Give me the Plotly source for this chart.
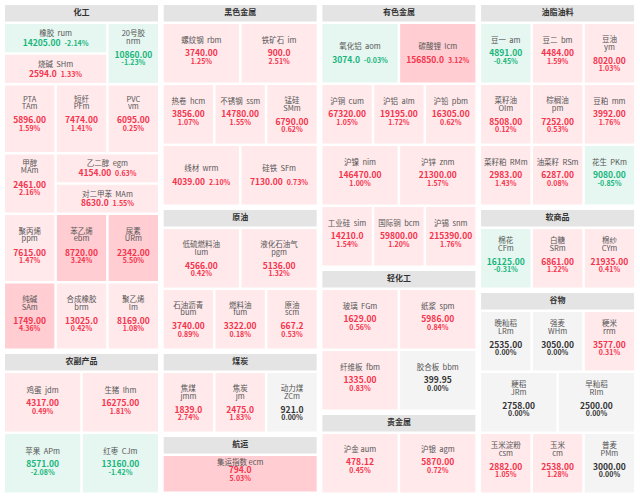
import plotly.graph_objects as go

# %% 数据：品种名称、代码、最新价、涨跌幅(%)
names = ["橡胶", "20号胶", "烧碱", "PTA", "短纤", "PVC", "甲醇", "乙二醇", "对二甲苯",
         "聚丙烯", "苯乙烯", "尿素", "纯碱", "合成橡胶", "聚乙烯",
         "鸡蛋", "生猪", "苹果", "红枣",
         "螺纹钢", "铁矿石", "热卷", "不锈钢", "锰硅", "线材", "硅铁",
         "低硫燃料油", "液化石油气", "石油沥青", "燃料油", "原油",
         "焦煤", "焦炭", "动力煤", "集运指数",
         "氧化铝", "碳酸锂", "沪铜", "沪铝", "沪铅", "沪镍", "沪锌", "工业硅", "国际铜", "沪锡",
         "玻璃", "纸浆", "纤维板", "胶合板", "沪金", "沪银",
         "豆一", "豆二", "豆油", "菜籽油", "棕榈油", "豆粕", "菜籽粕", "油菜籽", "花生",
         "棉花", "白糖", "棉纱",
         "晚籼稻", "强麦", "粳米", "粳稻", "早籼稻", "玉米淀粉", "玉米", "普麦"]
codes = ["rum", "nrm", "SHm", "TAm", "PFm", "vm", "MAm", "egm", "MAm",
         "ppm", "ebm", "URm", "SAm", "brm", "lm",
         "jdm", "lhm", "APm", "CJm",
         "rbm", "im", "hcm", "ssm", "SMm", "wrm", "SFm",
         "lum", "pgm", "bum", "fum", "scm",
         "jmm", "jm", "ZCm", "ecm",
         "aom", "lcm", "cum", "alm", "pbm", "nim", "znm", "sim", "bcm", "snm",
         "FGm", "spm", "fbm", "bbm", "aum", "agm",
         "am", "bm", "ym", "OIm", "pm", "mm", "RMm", "RSm", "PKm",
         "CFm", "SRm", "CYm",
         "LRm", "WHm", "rrm", "JRm", "RIm", "csm", "cm", "PMm"]
prices = ["14205.00", "10860.00", "2594.0", "5896.00", "7474.00", "6095.00", "2461.00", "4154.00", "8630.0",
          "7615.00", "8720.00", "2342.00", "1749.00", "13025.0", "8169.00",
          "4317.00", "16275.00", "8571.00", "13160.00",
          "3740.00", "900.0", "3856.00", "14780.00", "6790.00", "4039.00", "7130.00",
          "4566.00", "5136.00", "3740.00", "3322.00", "667.2",
          "1839.0", "2475.0", "921.0", "794.0",
          "3074.0", "156850.0", "67320.00", "19195.00", "16305.00", "146470.00", "21300.00",
          "14210.0", "59800.00", "215390.00",
          "1629.00", "5986.00", "1335.00", "399.95", "478.12", "5870.00",
          "4891.00", "4484.00", "8020.00", "8508.00", "7252.00", "3992.00", "2983.00", "6287.00", "9080.00",
          "16125.00", "6861.00", "21935.00",
          "2535.00", "3050.00", "3577.00", "2758.00", "2500.00", "2882.00", "2538.00", "3000.00"]
pcts = [-2.14, -1.23, 1.33, 1.59, 1.41, 0.25, 2.16, 0.63, 1.55,
        1.47, 3.24, 5.50, 4.36, 0.42, 1.08,
        0.49, 1.81, -2.08, -1.42,
        1.25, 2.51, 1.07, 1.55, 0.62, 2.10, 0.73,
        0.42, 1.32, 0.89, 0.18, 0.53,
        2.74, 1.83, 0.00, 5.03,
        -0.03, 3.12, 1.05, 1.72, 0.62, 1.00, 1.57, 1.54, 1.20, 1.76,
        0.56, 0.84, 0.83, 0.00, 0.45, 0.72,
        -0.45, 1.59, 1.03, 0.12, 0.53, 1.76, 1.43, 0.08, -0.85,
        -0.31, 1.22, 0.41,
        0.00, 0.00, 0.31, 0.00, 0.00, 1.05, 1.28, 0.00]

# %% 版面：每列 -> 板块(标题, 行) -> 行(高度, 格子, 文字上下偏移) -> 格子(宽度权重, 叠放品种, 文字样式)
LAYOUT = [
    [("化工", [(59, [(2, ["橡胶", "烧碱"], "A"), (1, ["20号胶"], "C")], -6),
               (66.5, [(1, ["PTA"], "C"), (1, ["短纤"], "C"), (1, ["PVC"], "C")], -6),
               (58, [(1, ["甲醇"], "C"), (2, ["乙二醇", "对二甲苯"], "A")], -6.5),
               (66, [(1, ["聚丙烯"], "C"), (1, ["苯乙烯"], "C"), (1, ["尿素"], "C")], -3),
               (65, [(1, ["纯碱"], "C"), (1, ["合成橡胶"], "C"), (1, ["聚乙烯"], "C")], -2.5)]),
     ("农副产品", [(58.5, [(1, ["鸡蛋"], "B"), (1, ["生猪"], "B")], 1),
                  (58.5, [(1, ["苹果"], "B"), (1, ["红枣"], "B")], 1)])],
    [("黑色金属", [(58.5, [(1, ["螺纹钢"], "B"), (1, ["铁矿石"], "B")], 0),
                  (58.5, [(1, ["热卷"], "B"), (1, ["不锈钢"], "B"), (1, ["锰硅"], "C")], 0),
                  (58.5, [(1, ["线材"], "A"), (1, ["硅铁"], "A")], 0)]),
     ("原油", [(58.5, [(1, ["低硫燃料油"], "C"), (1, ["液化石油气"], "C")], 0),
              (58.5, [(1, ["石油沥青"], "C"), (1, ["燃料油"], "C"), (1, ["原油"], "C")], -0.5)]),
     ("煤炭", [(58.5, [(1, ["焦煤"], "C"), (1, ["焦炭"], "C"), (1, ["动力煤"], "C")], 0)]),
     ("航运", [(35.5, [(1, ["集运指数"], "D")], 0)])],
    [("有色金属", [(58.5, [(1, ["氧化铝"], "A"), (1, ["碳酸锂"], "A")], 0),
                  (58.5, [(1, ["沪铜"], "B"), (1, ["沪铝"], "B"), (1, ["沪铅"], "B")], 0),
                  (58.5, [(1, ["沪镍"], "B"), (1, ["沪锌"], "B")], 0),
                  (58.5, [(1, ["工业硅"], "B"), (1, ["国际铜"], "B"), (1, ["沪锡"], "B")], 0)]),
     ("轻化工", [(58.5, [(1, ["玻璃"], "B"), (1, ["纸浆"], "B")], 0),
                (58.5, [(1, ["纤维板"], "B"), (1, ["胶合板"], "B")], 0)]),
     ("贵金属", [(58.5, [(1, ["沪金"], "B"), (1, ["沪银"], "B")], -1)])],
    [("油脂油料", [(58.5, [(1, ["豆一"], "B"), (1, ["豆二"], "B"), (1, ["豆油"], "C")], 0),
                  (58.5, [(1, ["菜籽油"], "C"), (1, ["棕榈油"], "C"), (1, ["豆粕"], "B")], 0),
                  (58.5, [(1, ["菜籽粕"], "B"), (1, ["油菜籽"], "B"), (1, ["花生"], "B")], 0)]),
     ("软商品", [(58.5, [(1, ["棉花"], "C"), (1, ["白糖"], "C"), (1, ["棉纱"], "C")], -4)]),
     ("谷物", [(58.5, [(1, ["晚籼稻"], "C"), (1, ["强麦"], "C"), (1, ["粳米"], "C")], -4),
              (58.5, [(1, ["粳稻"], "C"), (1, ["早籼稻"], "C")], -4),
              (58.5, [(1, ["玉米淀粉"], "C"), (1, ["玉米"], "C"), (1, ["普麦"], "C")], -4)])],
]
TIGHT = {"沪金", "集运指数"}  # 名称和代码之间只有一个空格

COL_X0, COL_W, COL_STEP = 5, 153, 158.7
TOP, HEAD_H, GAP, SEC_GAP = 5, 16.5, 2.5, 5.5
FONT = "Noto Sans CJK SC, Noto Sans, sans-serif"
NAME_SIZE, PRICE_SIZE, PCT_SIZE, HEAD_SIZE = 7.5, 8.5, 7, 8
NAME_COLOR, HEAD_BG, HEAD_COLOR = "#555555", "#E4E4E4", "#333333"


def bg_color(p):
    if p >= 3:
        return "#FFCDD2"
    if p > 0:
        return "#FFE9EB"
    if p < 0:
        return "#E5F7F0"
    return "#F4F4F4"


def txt_color(p):
    if p > 0:
        return "#F5334B"
    if p < 0:
        return "#17B57C"
    return "#333333"


shapes = []
tx, ty, tt, ts, tc = [], [], [], [], []


def rect(x0, y0, x1, y1, fill):
    shapes.append(dict(type="rect", xref="x", yref="y", x0=x0, y0=y0, x1=x1, y1=y1,
                       fillcolor=fill, line=dict(width=0), layer="below"))


def add(x, y, s, size, color):
    tx.append(x); ty.append(y); tt.append(s); ts.append(size); tc.append(color)


def draw_cell(i, x, y, w, h, style, dy):
    p = pcts[i]
    rect(x, y, x + w, y + h, bg_color(p))
    cx = x + w / 2
    col = txt_color(p)
    sep = "\u00a0" if names[i] in TIGHT else "\u00a0\u00a0"
    pct_s = f"<b>{p:.2f}%</b>"
    price_s = f"<b>{prices[i]}</b>"
    if style == "A":
        cy = y + h / 2
        d = (h - 28) * 0.08
        add(cx, cy - 4 - d, names[i] + sep + codes[i], NAME_SIZE, NAME_COLOR)
        add(cx, cy + 5.5 + d,
            price_s + "\u00a0\u00a0" + f"<span style='font-size:{PCT_SIZE}px'>{pct_s}</span>",
            PRICE_SIZE, col)
        return
    cy = y + h / 2 + dy
    if style == "B":
        add(cx, cy - 12.5, names[i] + sep + codes[i], NAME_SIZE, NAME_COLOR)
        add(cx, cy + 1, price_s, PRICE_SIZE, col)
        add(cx, cy + 8.7, pct_s, PCT_SIZE, col)
    elif style == "C":
        add(cx, cy - 13, names[i], NAME_SIZE, NAME_COLOR)
        add(cx, cy - 5.5, codes[i], NAME_SIZE, NAME_COLOR)
        add(cx, cy + 8.5, price_s, PRICE_SIZE, col)
        add(cx, cy + 16, pct_s, PCT_SIZE, col)
    else:
        add(cx, cy - 11, names[i] + sep + codes[i], NAME_SIZE, NAME_COLOR)
        add(cx, cy - 2.5, price_s, PRICE_SIZE, col)
        add(cx, cy + 5, pct_s, PCT_SIZE, col)


idx = {n: i for i, n in enumerate(names)}
for ci, column in enumerate(LAYOUT):
    x0 = COL_X0 + ci * COL_STEP
    y = TOP
    for si, (title, rows) in enumerate(column):
        if si:
            y += SEC_GAP - GAP
        rect(x0, y, x0 + COL_W, y + HEAD_H, HEAD_BG)
        add(x0 + COL_W / 2, y + HEAD_H / 2, f"<b>{title}</b>", HEAD_SIZE, HEAD_COLOR)
        y += HEAD_H + GAP
        for h, items, dy in rows:
            units = sum(it[0] for it in items)
            unit = (COL_W - (units - 1) * GAP) / units
            x = x0
            for wgt, cells, style in items:
                cw = wgt * unit + (wgt - 1) * GAP
                ch = (h - (len(cells) - 1) * GAP) / len(cells)
                for k, nm in enumerate(cells):
                    draw_cell(idx[nm], x, y + k * (ch + GAP), cw, ch, style, dy)
                x += cw + GAP
            y += h + GAP

fig = go.Figure(go.Scatter(
    x=tx, y=ty, text=tt, mode="text", textposition="middle center",
    textfont=dict(family=FONT, size=ts, color=tc), hoverinfo="skip",
))
fig.update_layout(
    width=640, height=496, margin=dict(l=0, r=0, t=0, b=0),
    paper_bgcolor="white", plot_bgcolor="white", showlegend=False,
    xaxis=dict(range=[0, 640], visible=False, fixedrange=True),
    yaxis=dict(range=[496, 0], visible=False, fixedrange=True),
    shapes=shapes,
)
# 页面默认 body 有 8px 外边距，去掉以便图与窗口对齐
fig.write_html("out.html", config={"displayModeBar": False},
               post_script="document.body.style.margin='0';")
